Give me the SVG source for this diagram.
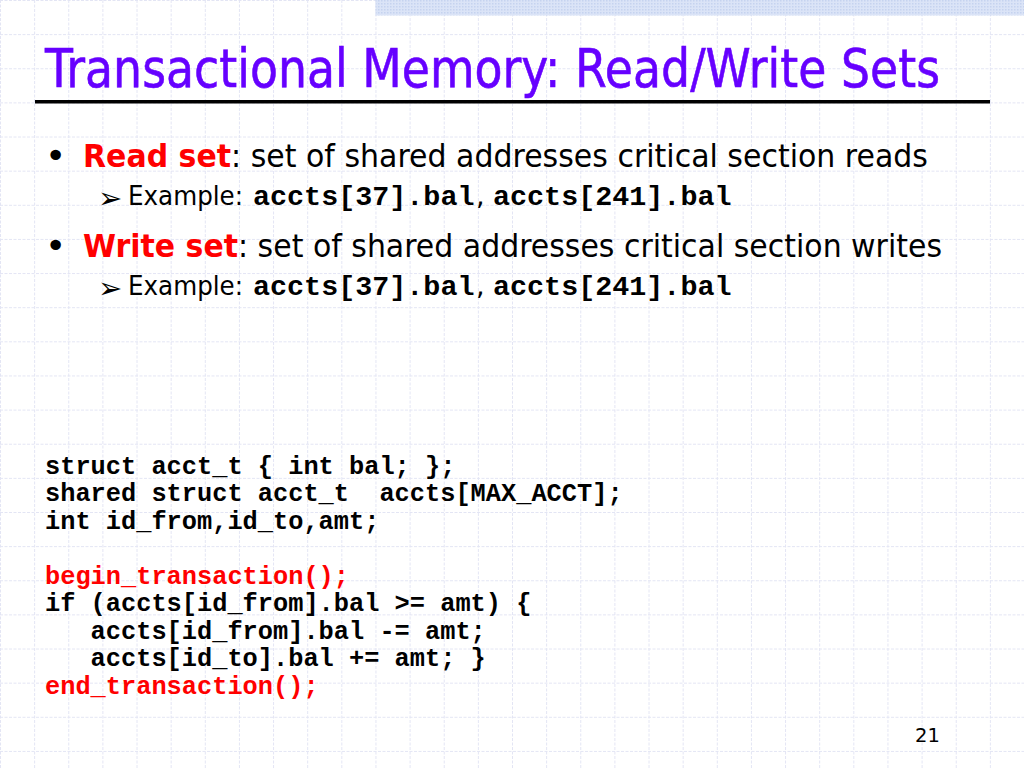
<svg xmlns="http://www.w3.org/2000/svg" width="1024" height="768" viewBox="0 0 1024 768">
  <defs>
    <pattern id="gridV" x="0" y="0" width="34.1333" height="768" patternUnits="userSpaceOnUse">
      <line x1="0.5" y1="0" x2="0.5" y2="768" stroke="#e3e5f4" stroke-width="1" stroke-dasharray="3 1.5"/>
    </pattern>
    <pattern id="gridH" x="0" y="0" width="1024" height="34.1333" patternUnits="userSpaceOnUse">
      <line x1="0" y1="0.5" x2="1024" y2="0.5" stroke="#e3e5f4" stroke-width="1" stroke-dasharray="3 1.5"/>
    </pattern>
    <pattern id="dots" x="0" y="0" width="3" height="3" patternUnits="userSpaceOnUse">
      <rect width="3" height="3" fill="#dbe4f7"/>
      <rect width="1.5" height="1.5" fill="#c5d3ef"/>
    </pattern>
    <style>
      .sans { font-family: "DejaVu Sans", Verdana, sans-serif; }
      .mono { font-family: "Liberation Mono", "Courier New", monospace; font-weight: bold; }
      .red { fill: #ff0000; }
      .blk { fill: #000000; }
      .arrow { font-family: "DejaVu Sans", sans-serif; font-size: 29px; fill: #000000; }
    </style>
  </defs>

  <g id="background">
    <rect width="1024" height="768" fill="#ffffff"/>
    <rect width="1024" height="768" fill="url(#gridV)"/>
    <rect width="1024" height="768" fill="url(#gridH)"/>
    <rect x="375.5" y="0" width="648.5" height="15.5" fill="url(#dots)"/>
  </g>

  <g id="title">
    <text class="sans" transform="translate(45 87) scale(0.85 1)" x="0" y="0" font-size="53" fill="#6600ff" stroke="#6600ff" stroke-width="0.6" textLength="1053" lengthAdjust="spacingAndGlyphs">Transactional Memory: Read/Write Sets</text>
    <rect x="35" y="100" width="955" height="3.5" fill="#000000"/>
  </g>

  <g id="bullet-read">
    <text class="sans blk" x="45" y="168" font-size="36">•</text>
    <text class="sans blk" x="83" y="167" font-size="32" textLength="845" lengthAdjust="spacingAndGlyphs"><tspan class="red" font-weight="bold">Read set</tspan>: set of shared addresses critical section reads</text>
    <text class="arrow" x="98" y="208">➢</text>
    <text class="sans blk" x="128" y="205" font-size="27" textLength="115" lengthAdjust="spacingAndGlyphs">Example:</text>
    <text class="mono blk" x="253" y="205" font-size="28.4">accts[37].bal</text>
    <text class="sans blk" x="476" y="205" font-size="27">,</text>
    <text class="mono blk" x="493" y="205" font-size="28.4">accts[241].bal</text>
  </g>

  <g id="bullet-write">
    <text class="sans blk" x="45" y="258" font-size="36">•</text>
    <text class="sans blk" x="83" y="257" font-size="32" textLength="859" lengthAdjust="spacingAndGlyphs"><tspan class="red" font-weight="bold">Write set</tspan>: set of shared addresses critical section writes</text>
    <text class="arrow" x="98" y="298">➢</text>
    <text class="sans blk" x="128" y="295" font-size="27" textLength="115" lengthAdjust="spacingAndGlyphs">Example:</text>
    <text class="mono blk" x="253" y="295" font-size="28.4">accts[37].bal</text>
    <text class="sans blk" x="476" y="295" font-size="27">,</text>
    <text class="mono blk" x="493" y="295" font-size="28.4">accts[241].bal</text>
  </g>

  <g id="code" font-size="25.33">
    <text class="mono blk" x="45" y="473.5">struct acct_t { int bal; };</text>
    <text class="mono blk" x="45" y="501" xml:space="preserve">shared struct acct_t  accts[MAX_ACCT];</text>
    <text class="mono blk" x="45" y="528.5">int id_from,id_to,amt;</text>
    <text class="mono red" x="45" y="583.5">begin_transaction();</text>
    <text class="mono blk" x="45" y="611">if (accts[id_from].bal &gt;= amt) {</text>
    <text class="mono blk" x="90.6" y="638.5">accts[id_from].bal -= amt;</text>
    <text class="mono blk" x="90.6" y="666">accts[id_to].bal += amt; }</text>
    <text class="mono red" x="45" y="693.5">end_transaction();</text>
  </g>

  <g id="page-number">
    <text class="sans blk" x="915" y="742" font-size="19.5">21</text>
  </g>
</svg>
